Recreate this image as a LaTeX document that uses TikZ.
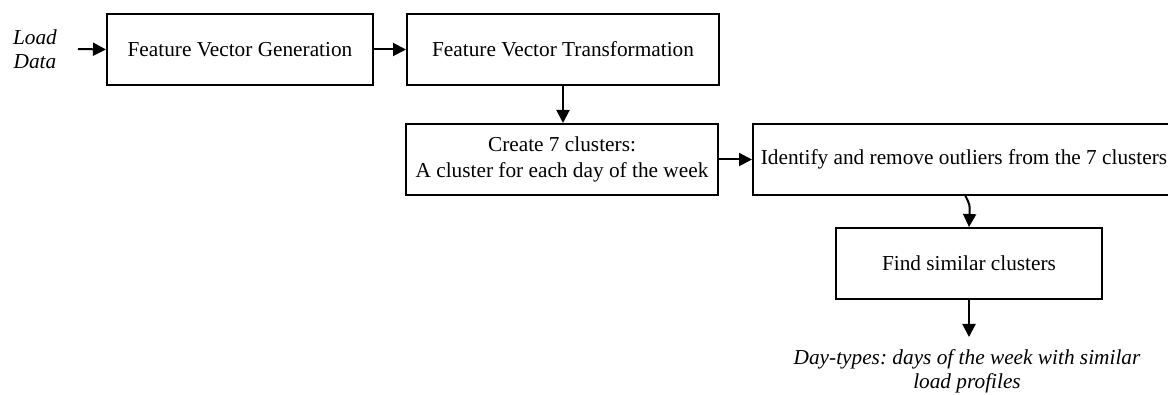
\documentclass[tikz,border=0pt]{standalone}
\usepackage{fontspec}
\setmainfont{Liberation Serif}
\usetikzlibrary{arrows.meta}
\frenchspacing
\begin{document}
\begin{tikzpicture}[x=1pt,y=-1pt,
  box/.style={draw,line width=2pt,inner sep=0pt,align=center,font=\fontsize{21.3}{26}\selectfont},
  lbl/.style={inner sep=0pt,align=center,font=\fontsize{21.3}{24}\selectfont\itshape},
  arr/.style={line width=2pt,-{Triangle[length=13pt,width=13pt]}}]
\useasboundingbox (0,0) rectangle (1168,395);
\node[lbl] (in) at (35,49) {Load\\Data};
\node[box,minimum width=266pt,minimum height=71pt] (b1) at (240,49.5) {Feature Vector Generation};
\node[box,minimum width=312pt,minimum height=71pt] (b2) at (563,49.5) {Feature Vector Transformation};
\node[box,minimum width=312pt,minimum height=71pt] (b3) at (562,159.5) {\rule{0pt}{3pt}Create 7 clusters:\\A cluster for each day of the week};
\node[box,minimum width=422pt,minimum height=71pt] (b4) at (964,159.5) {Identify and remove outliers from the 7 clusters};
\node[box,minimum width=266pt,minimum height=71pt] (b5) at (969,263.5) {Find similar clusters};
\node[lbl] (out) at (967,371) {Day-types: days of the week with similar\\load profiles};
\coordinate (s) at (78,49);
\coordinate (e) at (969,337);
\draw[arr] (s) -- (b1.west);
\draw[arr] (b1.east) -- (b2.west);
\draw[arr] (b2.south) -- (b2.south |- b3.north);
\draw[arr] (b3.east) -- (b4.west);
\draw[arr] (965,195) .. controls (970,205) .. (b5.north);
\draw[arr] (b5.south) -- (e);
\end{tikzpicture}
\end{document}
